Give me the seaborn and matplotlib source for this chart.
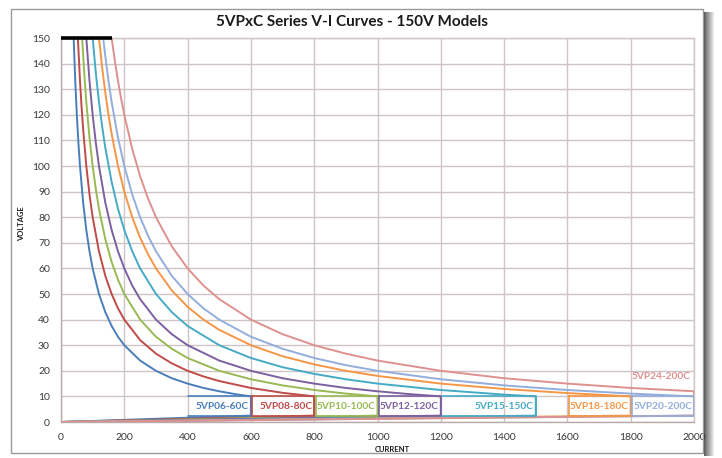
import numpy as np
import pandas as pd
import matplotlib
matplotlib.use("Agg")
import matplotlib.pyplot as plt
from matplotlib.patches import Rectangle
import seaborn as sns

# ---------------- data ----------------
models = ["5VP06-60C", "5VP08-80C", "5VP10-100C", "5VP12-120C",
          "5VP15-150C", "5VP18-180C", "5VP20-200C", "5VP24-200C"]

cur_06 = [40, 45, 50, 55, 60, 70, 80, 90, 100, 120, 140, 160, 180, 200, 250, 300, 350, 400, 450, 500, 550, 600]
vol_06 = [150, 133.3, 120, 109.1, 100, 85.7, 75, 66.7, 60, 50, 42.9, 37.5, 33.3, 30, 24, 20, 17.1, 15, 13.3, 12, 10.9, 10]

cur_08 = [53.3, 60, 65, 70, 80, 90, 100, 120, 140, 160, 180, 200, 250, 300, 350, 400, 450, 500, 600, 700, 800]
vol_08 = [150, 133.3, 123.1, 114.3, 100, 88.9, 80, 66.7, 57.1, 50, 44.4, 40, 32, 26.7, 22.9, 20, 17.8, 16, 13.3, 11.4, 10]

cur_10 = [66.7, 75, 80, 90, 100, 110, 120, 140, 160, 180, 200, 250, 300, 350, 400, 500, 600, 700, 800, 900, 1000]
vol_10 = [150, 133.3, 125, 111.1, 100, 90.9, 83.3, 71.4, 62.5, 55.6, 50, 40, 33.3, 28.6, 25, 20, 16.7, 14.3, 12.5, 11.1, 10]

cur_12 = [80, 90, 100, 110, 120, 140, 160, 180, 200, 225, 250, 300, 350, 400, 500, 600, 700, 800, 900, 1000, 1100, 1200]
vol_12 = [150, 133.3, 120, 109.1, 100, 85.7, 75, 66.7, 60, 53.3, 48, 40, 34.3, 30, 24, 20, 17.1, 15, 13.3, 12, 10.9, 10]

cur_15 = [100, 110, 120, 130, 140, 160, 180, 200, 225, 250, 300, 350, 400, 500, 600, 700, 800, 900, 1000, 1200, 1400, 1500]
vol_15 = [150, 136.4, 125, 115.4, 107.1, 93.8, 83.3, 75, 66.7, 60, 50, 42.9, 37.5, 30, 25, 21.4, 18.8, 16.7, 15, 12.5, 10.7, 10]

cur_18 = [120, 130, 140, 150, 160, 180, 200, 225, 250, 275, 300, 350, 400, 450, 500, 600, 700, 800, 900, 1000, 1200, 1400, 1600, 1800]
vol_18 = [150, 138.5, 128.6, 120, 112.5, 100, 90, 80, 72, 65.5, 60, 51.4, 45, 40, 36, 30, 25.7, 22.5, 20, 18, 15, 12.9, 11.3, 10]

cur_20 = [133.3, 140, 150, 160, 180, 200, 225, 250, 275, 300, 350, 400, 450, 500, 600, 700, 800, 900, 1000, 1200, 1400, 1600, 1800, 2000]
vol_20 = [150, 142.9, 133.3, 125, 111.1, 100, 88.9, 80, 72.7, 66.7, 57.1, 50, 44.4, 40, 33.3, 28.6, 25, 22.2, 20, 16.7, 14.3, 12.5, 11.1, 10]

cur_24 = [160, 170, 180, 190, 200, 225, 250, 275, 300, 350, 400, 450, 500, 600, 700, 800, 900, 1000, 1200, 1400, 1600, 1800, 2000]
vol_24 = [150, 141.2, 133.3, 126.3, 120, 106.7, 96, 87.3, 80, 68.6, 60, 53.3, 48, 40, 34.3, 30, 26.7, 24, 20, 17.1, 15, 13.3, 12]

max_current = [600, 800, 1000, 1200, 1500, 1800, 2000, 2000]
bottom_voltage = [2.5, 2.5, 2.5, 2.5, 2.5, 2.5, 2.5, 2.5]

limit_current = [0, 160]
limit_voltage = [150, 150]

x_ticks = [0, 200, 400, 600, 800, 1000, 1200, 1400, 1600, 1800, 2000]
y_ticks = list(range(0, 151, 10))

colors = ["#4a7ebb", "#be4b48", "#98b954", "#7d60a0",
          "#46aac5", "#f59646", "#93aedc", "#de918e"]

currents = [cur_06, cur_08, cur_10, cur_12, cur_15, cur_18, cur_20, cur_24]
voltages = [vol_06, vol_08, vol_10, vol_12, vol_15, vol_18, vol_20, vol_24]

# long table: curve, then vertical drop at max current, then back to origin
rows = []
for m, c, v, imax, vb in zip(models, currents, voltages, max_current, bottom_voltage):
    pts_c = list(c) + [imax, 0]
    pts_v = list(v) + [vb, 0]
    for k, (a, b) in enumerate(zip(pts_c, pts_v)):
        rows.append({"model": m, "order": k, "current": a, "voltage": b})
df = pd.DataFrame(rows)

# ---------------- style ----------------
sns.set_style("white")
plt.rcParams["font.family"] = ["Lato", "DejaVu Sans"]

W, H = 722, 458
fig = plt.figure(figsize=(W / 100, H / 100), dpi=100)
fig.patch.set_facecolor("white")

# outer frame and shadow of the chart area
fig.patches.append(Rectangle((11 / W, 1 - 453 / H), (703 - 11) / W, (453 - 9) / H,
                             transform=fig.transFigure, fill=False,
                             edgecolor="#9a9a9a", lw=1.0, zorder=0))
for i, a in enumerate(np.linspace(0.75, 0.1, 10)):
    fig.patches.append(Rectangle(((704 + i) / W, 1 - 456 / H), 1 / W, (456 - 12) / H,
                                 transform=fig.transFigure, facecolor="#303030",
                                 edgecolor="none", alpha=a, zorder=0))

ax = fig.add_axes([61 / W, 1 - 422 / H, 633 / W, 384 / H])

grid_col = "#cfc4c4"
sns.lineplot(data=df, x="current", y="voltage", hue="model", units="model",
             estimator=None, sort=False, palette=dict(zip(models, colors)),
             hue_order=models, lw=1.4, legend=False, ax=ax, zorder=3)

# top limit line
ax.plot(limit_current, limit_voltage, color="black", lw=2.6, zorder=6,
        solid_capstyle="butt", clip_on=False)

ax.set_xlim(0, 2000)
ax.set_ylim(0, 150)
ax.set_xticks(x_ticks)
ax.set_yticks(y_ticks)
ax.set_xticks(np.arange(0, 2001, 50), minor=True)
ax.set_yticks(np.arange(0, 151, 5), minor=True)
ax.grid(True, which="major", color=grid_col, lw=1.0, zorder=0)
for s in ax.spines.values():
    s.set_color(grid_col)
    s.set_linewidth(1.0)
ax.spines["left"].set_color("#b8aaaa")
ax.spines["bottom"].set_color("#b8aaaa")
ax.tick_params(axis="both", which="major", direction="out", length=5,
               width=0.8, color="#b8aaaa", labelsize=7.5, labelcolor="#3a3a3a", pad=3)
ax.tick_params(axis="both", which="minor", direction="in", length=3,
               width=0.6, color="#c8bcbc")
ax.set_xlabel("")
ax.set_ylabel("")

# label boxes (left edge shown only where visible in the reference)
box_left = [400, 605, 805, 1005, 1205, 1605, 1805]
left_edge = [False, True, True, True, False, True, True]
y0, y1 = 2.3, 10.0
for m, col, imax, xl, le in zip(models[:7], colors[:7], max_current[:7], box_left, left_edge):
    xs = [xl, imax, imax, xl] + ([xl] if le else [])
    ys = [y1, y1, y0, y0] + ([y1] if le else [])
    ax.plot(xs, ys, color=col, lw=1.2, zorder=4)
    ax.text(imax - 6, 6.0, m, color=col, fontsize=7.3, fontweight="bold",
            ha="right", va="center", zorder=5)
ax.text(1990, 17.6, models[7], color=colors[7], fontsize=7.3, fontweight="bold",
        ha="right", va="center", zorder=5)

fig.text(352 / W, 1 - 22 / H, "5VPxC Series V-I Curves - 150V Models",
         ha="center", va="center", fontsize=11, fontweight="bold", color="#1a1a1a")
fig.text(22 / W, 1 - 224 / H, "VOLTAGE", rotation=90, ha="center", va="center",
         fontsize=5.5, fontweight="bold", color="#1a1a1a")
fig.text(392 / W, 1 - 449 / H, "CURRENT", ha="center", va="center",
         fontsize=5.5, fontweight="bold", color="#1a1a1a")

fig.savefig("out.png", dpi=100)
